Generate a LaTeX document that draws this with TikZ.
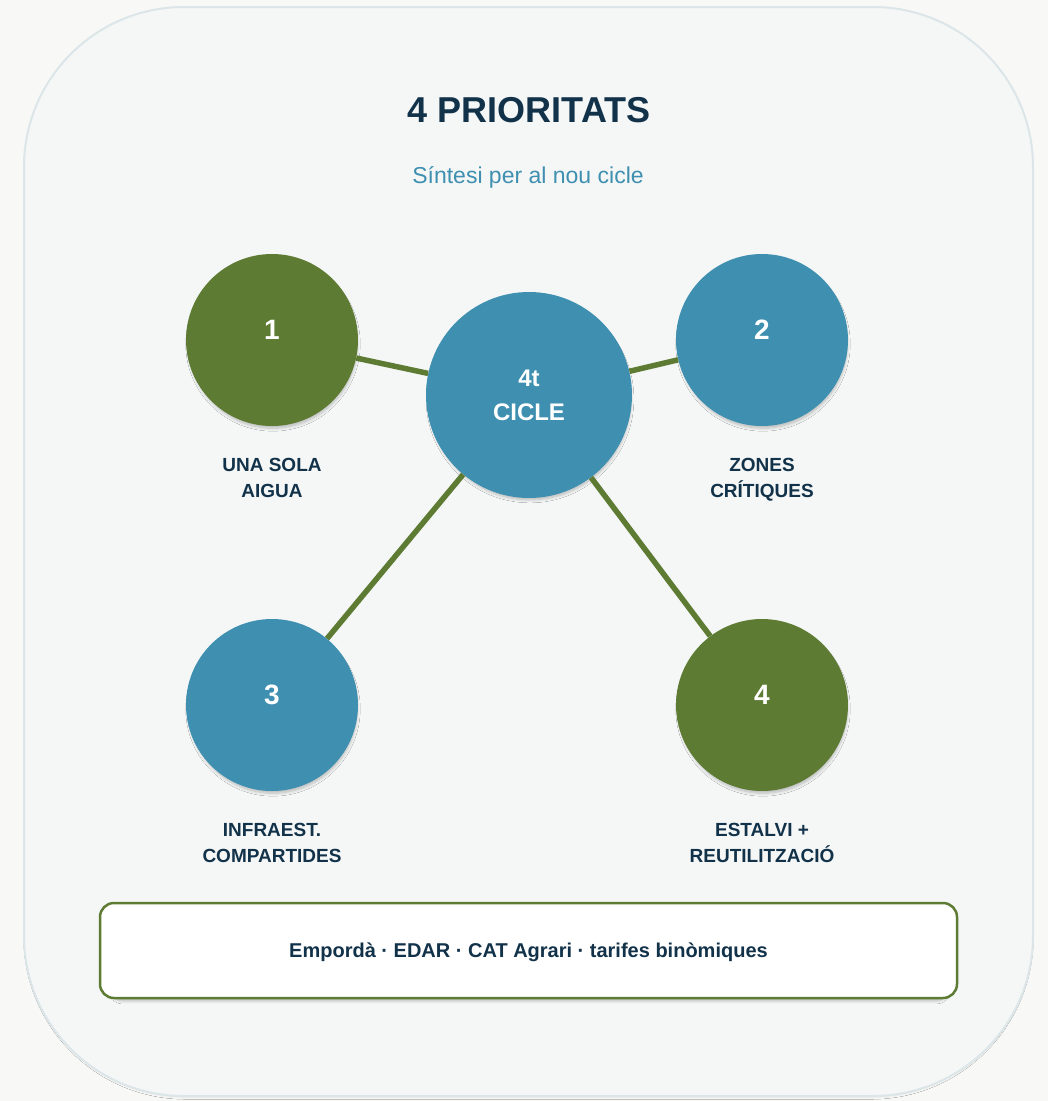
\documentclass[tikz,border=0pt]{standalone}
\usepackage{fontspec}
\setmainfont{Liberation Sans}
\usetikzlibrary{positioning,shadows.blur}

\definecolor{leaf}{HTML}{5E7B33}
\definecolor{water}{HTML}{3E8FB0}
\definecolor{ink}{HTML}{12324A}
\definecolor{paper}{HTML}{F5F7F7}
\definecolor{rim}{HTML}{DCE5E8}
\definecolor{page}{HTML}{F8F8F7}

\begin{document}
\begin{tikzpicture}[
      x=1pt, y=-1pt,
      glow/.style={blur shadow={shadow xshift=1pt, shadow yshift=-4pt, shadow scale=0.98,
          shadow blur radius=3pt, shadow blur steps=8, shadow opacity=25}},
      prio/.style={circle, glow, minimum size=172pt, inner sep=0pt, text=white,
          font=\bfseries\fontsize{28}{30}\selectfont, text height=20pt, text depth=22pt},
      hub/.style={circle, glow, fill=water, minimum size=206pt, inner sep=0pt,
          text=white, align=center, font=\bfseries\fontsize{24}{34}\selectfont},
      tag/.style={text=ink, inner sep=0pt, align=center,
          font=\bfseries\fontsize{19}{26}\selectfont},
      link/.style={draw=leaf, line width=5.5pt},
      note/.style={draw=leaf, line width=2.5pt, fill=white, rounded corners=14pt,
          minimum width=857pt, minimum height=95pt, text=ink, text depth=0pt,
          font=\bfseries\fontsize{20}{22}\selectfont, glow},
  ]
    \useasboundingbox (0,0) rectangle (1048,1101);
    \fill[page] (0,0) rectangle (1048,1101);
    \draw[rim, line width=2pt, fill=paper, rounded corners=160pt,
      blur shadow={shadow xshift=0pt, shadow yshift=-3pt, shadow scale=0.995,
        shadow blur radius=3pt, shadow opacity=15}]
      (24,7) rectangle (1033,1096);

    % heading
    \node[anchor=base, text=ink, font=\bfseries\fontsize{36}{40}\selectfont]
      (title) at (529,122) {4 PRIORITATS};
    \node[anchor=base, text=water, font=\fontsize{23}{26}\selectfont]
      (subtitle) at (528,183) {Síntesi per al nou cicle};

    % the four priorities round the hub
    \node[prio, fill=leaf] (p1) at (272,340) {1};
    \node[prio, fill=water] (p2) at (762,340) {2};
    \node[prio, fill=water] (p3) at (272,705) {3};
    \node[prio, fill=leaf] (p4) at (762,705) {4};
    \node[hub] (hub) at (529,395) {4t\\CICLE};

    \draw[link] (p1) -- (hub);
    \draw[link] (p2) -- (hub);
    \draw[link] (p3) -- (hub);
    \draw[link] (p4) -- (hub);

    \node[tag, below=32pt of p1] (t1) {UNA SOLA\\AIGUA};
    \node[tag, below=32pt of p2] (t2) {ZONES\\CRÍTIQUES};
    \node[tag, below=32pt of p3] (t3) {INFRAEST.\\COMPARTIDES};
    \node[tag, below=32pt of p4] (t4) {ESTALVI +\\REUTILITZACIÓ};

    \node[note] (keys) at (528.5,950.5)
      {Empordà · EDAR · CAT Agrari · tarifes binòmiques};
  \end{tikzpicture}
\end{document}
